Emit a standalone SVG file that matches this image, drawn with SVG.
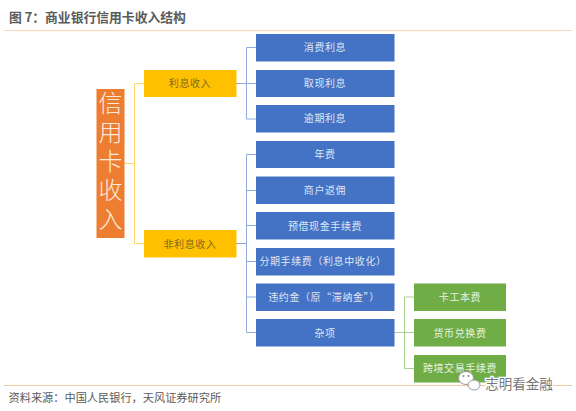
<svg xmlns="http://www.w3.org/2000/svg" width="576" height="411" viewBox="0 0 576 411">
<style>
text{font-family:"Noto Sans CJK SC","Liberation Sans",sans-serif;text-anchor:middle}
.b rect{fill:#4472c4}.b text{fill:#dfe7f5;font-size:10px;letter-spacing:.6px}
.g rect{fill:#70ad47}.g text{fill:#e9f3e2;font-size:10px;letter-spacing:.6px}
.y rect{fill:#ffc000}.y text{fill:#7f6a20;font-size:10px;letter-spacing:.6px}
.c path{fill:none;stroke-width:1}
</style>
<rect width="576" height="411" fill="#fff"/>
<text x="9" y="22" style="text-anchor:start;font-size:12.800px;font-weight:700;fill:#5a5a5a">图 7：商业银行信用卡收入结构</text>
<path d="M4 30.500H572" stroke="#f8d3b5" fill="none"/>
<path d="M4 385.500H572" stroke="#f5c9a2" fill="none"/>
<g id="connectors" class="c">
<path stroke="#ffd766" d="M124 163.500H134.500M134.500 83.500V243.500M134.500 83.500H144M134.500 243.500H144"/>
<path stroke="#8faadc" d="M236 83.500H246.500M246.500 47.500V119M246.500 47.500H256M246.500 83.500H256M246.500 119H256"/>
<path stroke="#8faadc" d="M236 243.500H246.500M246.500 154.500V332.500M246.500 154.500H256M246.500 190.500H256M246.500 225.500H256M246.500 261.500H256M246.500 297H256M246.500 332.500H256"/>
<path stroke="#a9d18e" d="M394.500 332.500H404.500M404.500 297V368.500M404.500 297H414M404.500 332.500H414M404.500 368.500H414"/>
</g>
<g id="root"><rect x="96.500" y="89" width="28" height="149" fill="#ed7d31"/>
<text x="110.500" y="163.500" style="writing-mode:vertical-rl;font-size:24px;letter-spacing:5px;fill:#fbe9dc;font-weight:300">信用卡收入</text></g>
<g id="n-lixi" class="y"><rect x="144" y="70" width="92.500" height="27"/><text x="190" y="87">利息收入</text></g>
<g id="n-feilixi" class="y"><rect x="144" y="230" width="92.500" height="27.500"/><text x="190" y="247.500">非利息收入</text></g>
<g id="n1" class="b"><rect x="256" y="34" width="138.500" height="27.500"/><text x="325" y="51">消费利息</text></g>
<g id="n2" class="b"><rect x="256" y="70" width="138.500" height="27"/><text x="325" y="87">取现利息</text></g>
<g id="n3" class="b"><rect x="256" y="105" width="138.500" height="27.500"/><text x="325" y="122">逾期利息</text></g>
<g id="n4" class="b"><rect x="256" y="141" width="138.500" height="27"/><text x="325" y="158">年费</text></g>
<g id="n5" class="b"><rect x="256" y="176.500" width="138.500" height="27.500"/><text x="325" y="194">商户返佣</text></g>
<g id="n6" class="b"><rect x="256" y="212" width="138.500" height="27.500"/><text x="325" y="229.500">预借现金手续费</text></g>
<g id="n7" class="b"><rect x="256" y="248" width="138.500" height="27.500"/><text x="323" y="265">分期手续费（利息中收化）</text></g>
<g id="n8" class="b"><rect x="256" y="283.500" width="138.500" height="27.500"/><text x="324" y="301">违约金（原“滞纳金”）</text></g>
<g id="n9" class="b"><rect x="256" y="319" width="138.500" height="27.500"/><text x="325" y="336.500">杂项</text></g>
<g id="g1" class="g"><rect x="414" y="283.500" width="92" height="27.500"/><text x="460" y="301">卡工本费</text></g>
<g id="g2" class="g"><rect x="414" y="319" width="92" height="27.500"/><text x="460" y="336.500">货币兑换费</text></g>
<g id="g3" class="g"><rect x="414" y="355" width="92" height="27.500"/><text x="460" y="372">跨境交易手续费</text></g>
<text x="8.500" y="402" style="text-anchor:start;font-size:11.200px;fill:#5a5a5a">资料来源：中国人民银行，天风证券研究所</text>
<g id="watermark">
<ellipse cx="466" cy="378" rx="7.500" ry="6.500" fill="#fff" stroke="#999"/>
<ellipse cx="474" cy="385" rx="6" ry="5" fill="#fff" stroke="#999"/>
<circle cx="463.500" cy="376" r="1" fill="#888"/><circle cx="468.500" cy="376" r="1" fill="#888"/>
<text x="519" y="389" style="font-size:13.500px;fill:#777;stroke:#fff;stroke-width:2.500px;paint-order:stroke">志明看金融</text>
</g>
</svg>
